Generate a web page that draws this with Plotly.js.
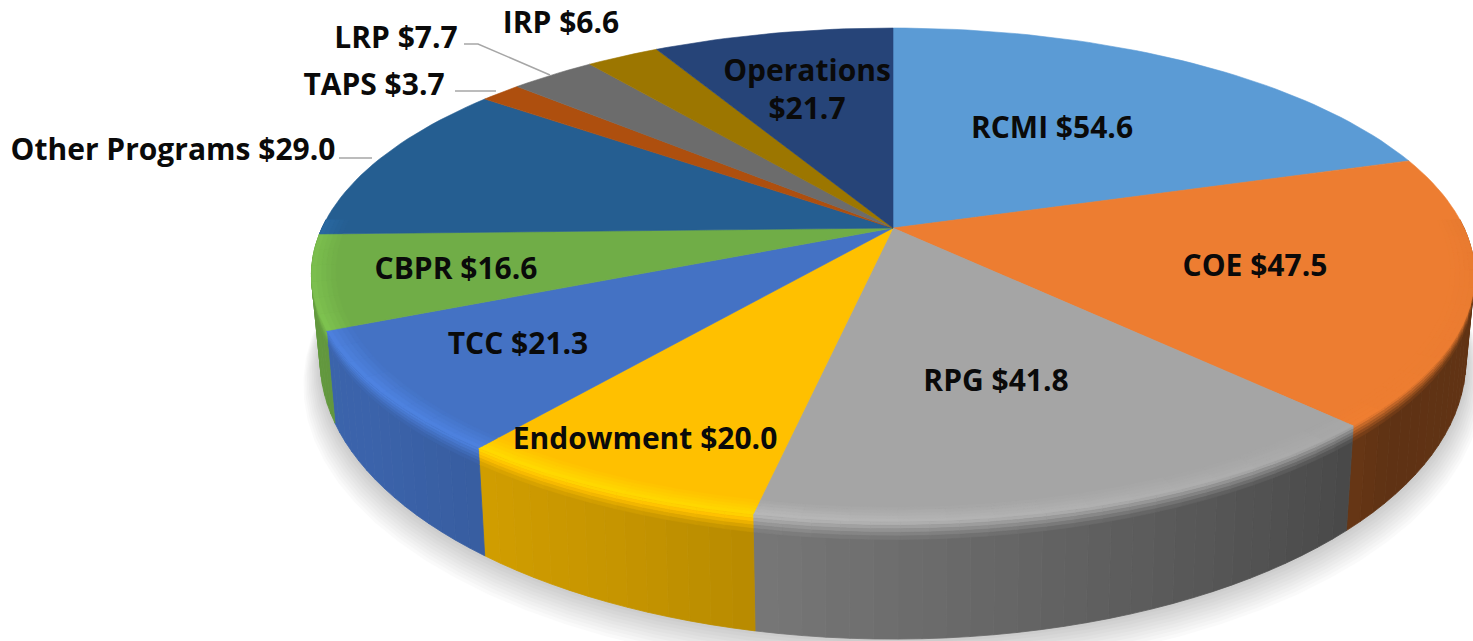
<!DOCTYPE html>
<html>
<head>
<meta charset="utf-8">
<script src="https://cdn.plot.ly/plotly-3.0.1.min.js"></script>
<style>html,body{margin:0;padding:0;background:#fff}#chart{width:1473px;height:641px}</style>
</head>
<body>
<div id="chart"></div>
<script>
// --- data ---
const categories = ["RCMI","COE","RPG","Endowment","TCC","CBPR","Other Programs","TAPS","LRP","IRP","Operations"];
const values = [54.6,47.5,41.8,20.0,21.3,16.6,29.0,3.7,7.7,6.6,21.7];
const colors = ["#5B9BD5","#ED7D31","#A5A5A5","#FFC000","#4472C4","#70AD47","#255E91","#AE4F0E","#6C6C6C","#9C7600","#264478"];

// --- label placement (pixel-scaled axes) ---
const labelX = [1052,1255,996,645,518,456,173,374,396,561,807];
const labelY = [130,268,383,441,346,271,152,87,40,25,73];
const leaders = [
  {x:[339,372],y:[158,158]},
  {x:[455,496],y:[91,91]},
  {x:[464,478,550],y:[44,44,75]}
];

// --- projection of the tilted disc ---
const CX=893, CY=228, RX=571, RY=238, PERSP=0.19;
const LOW = {rx:0.985, cy:307, ry:269};
function topPt(th,r){
  const s=Math.sin(th)*r,c=Math.cos(th)*r,w=1+PERSP*c;
  return [CX+RX*s/w, CY-RY*c/w];
}
function bottomPt(th,r){
  const s=Math.sin(th)*r,c=Math.cos(th)*r,w=1+PERSP*c;
  return [CX+RX*LOW.rx*s/w, LOW.cy-LOW.ry*c/w];
}
function sidePt(th,d){
  const a=topPt(th,1),b=bottomPt(th,1);
  return [a[0]+(b[0]-a[0])*d,a[1]+(b[1]-a[1])*d];
}
const rad=d=>d*Math.PI/180;
function lerpTable(t,x){
  if(x<=t[0][0])return t[0][1];
  for(let i=1;i<t.length;i++){
    if(x<=t[i][0]){const k=(x-t[i-1][0])/(t[i][0]-t[i-1][0]);return t[i-1][1]+(t[i][1]-t[i-1][1])*k;}
  }
  return t[t.length-1][1];
}
const sideShade=[[90,0.42],[130,0.40],[140,0.46],[191,0.72],[205,0.78],[235,0.87],[262,0.88]];
const rimLight=[[90,0.98],[130,1.0],[150,1.05],[191,1.12],[235,1.15],[262,1.1]];
function hex(c){return [1,3,5].map(i=>parseInt(c.substr(i,2),16));}
function shade(rgb,f){return "rgb("+rgb.map(v=>Math.max(0,Math.min(255,Math.round(v*f)))).join(",")+")";}
function poly(pts,col,opacity,lw){
  return {type:"scatter",mode:"lines",x:pts.map(p=>p[0]),y:pts.map(p=>p[1]),fill:"toself",fillcolor:col,
    line:{color:lw?col:"rgba(0,0,0,0)",width:lw||0},opacity:opacity==null?1:opacity,hoverinfo:"skip",showlegend:false};
}

const total=values.reduce((a,b)=>a+b,0);
let cum=0;
const spans=values.map(v=>{const s=[cum/total*360,(cum+v)/total*360];cum+=v;return s;});
const traces=[];

// soft ground shadow
for(let i=10;i>=1;i--){
  const pts=[];
  for(let d=0;d<=360;d+=4){const p=bottomPt(rad(d),1+i*0.0028);pts.push([p[0],p[1]+i*2.2]);}
  traces.push(poly(pts,"#000000",0.016));
}

// rim side, split into thin segments
const VIS=[88,272];
function segs(s,step){
  const a=Math.max(s[0],VIS[0]),b=Math.min(s[1],VIS[1]),out=[];
  if(b<=a)return out;
  const n=Math.ceil((b-a)/step);
  for(let i=0;i<n;i++)out.push([a+(b-a)*i/n,a+(b-a)*(i+1)/n]);
  return out;
}
// body of the wall, then soft blend bands near the top edge
spans.forEach((s,i)=>{
  const rgb=hex(colors[i]);
  segs(s,2).forEach(g=>{
    const c=shade(rgb,lerpTable(sideShade,(g[0]+g[1])/2));
    traces.push(poly([sidePt(rad(g[0]),0),sidePt(rad(g[1]),0),sidePt(rad(g[1]),1),sidePt(rad(g[0]),1),sidePt(rad(g[0]),0)],c,1,0.8));
  });
});
const bands=[[0,0.03,0.9],[0.03,0.06,0.7],[0.06,0.09,0.5],[0.09,0.12,0.3],[0.12,0.15,0.12]];
spans.forEach((s,i)=>{
  const rgb=hex(colors[i]);
  segs(s,2.5).forEach(g=>{
    const m=(g[0]+g[1])/2,fs=lerpTable(sideShade,m),fl=lerpTable(rimLight,m);
    bands.forEach(b=>{
      traces.push(poly([sidePt(rad(g[0]),b[0]),sidePt(rad(g[1]),b[0]),sidePt(rad(g[1]),b[1]),sidePt(rad(g[0]),b[1]),sidePt(rad(g[0]),b[0])],shade(rgb,fs+(fl-fs)*b[2]),1,0.6));
    });
  });
});

// flat top slices
spans.forEach((s,i)=>{
  const pts=[[CX,CY]],n=Math.max(6,Math.ceil((s[1]-s[0])/1.5));
  for(let k=0;k<=n;k++)pts.push(topPt(rad(s[0]+(s[1]-s[0])*k/n),1));
  pts.push([CX,CY]);
  traces.push(poly(pts,colors[i],1,0.6));
});

// bevel along the front of the top face
const rings=[[0.96,0.968,0.15],[0.968,0.976,0.35],[0.976,0.984,0.55],[0.984,0.992,0.75],[0.992,1.0,0.95]];
spans.forEach((s,i)=>{
  const rgb=hex(colors[i]);
  segs(s,4).forEach(g=>{
    const fl=lerpTable(rimLight,(g[0]+g[1])/2);
    rings.forEach(r=>{
      traces.push(poly([topPt(rad(g[0]),r[0]),topPt(rad(g[1]),r[0]),topPt(rad(g[1]),r[1]),topPt(rad(g[0]),r[1]),topPt(rad(g[0]),r[0])],shade(rgb,1+(fl-1)*r[2]),1,0.6));
    });
  });
});

// leader lines
leaders.forEach(l=>traces.push({type:"scatter",mode:"lines",x:l.x,y:l.y,line:{color:"#A6A6A6",width:1.5},hoverinfo:"skip",showlegend:false}));

// labels
const lx=[],ly=[],lt=[];
categories.forEach((c,i)=>{
  const amount="$"+values[i].toFixed(1);
  if(c==="Operations"){
    lx.push(labelX[i],labelX[i]);ly.push(labelY[i],labelY[i]+38);lt.push(c,amount);
  }else{
    lx.push(labelX[i]);ly.push(labelY[i]);lt.push(c+" "+amount);
  }
});
traces.push({type:"scatter",mode:"text",x:lx,y:ly,text:lt,textposition:"middle center",
  textfont:{family:"'Open Sans', sans-serif",size:30,color:"#0A0A0A",weight:700},hoverinfo:"skip",showlegend:false,cliponaxis:false});

const axis={visible:false,fixedrange:true,showgrid:false,zeroline:false};
Plotly.newPlot("chart",traces,{
  width:1473,height:641,margin:{l:0,r:0,t:0,b:0},paper_bgcolor:"#FFFFFF",plot_bgcolor:"#FFFFFF",showlegend:false,
  xaxis:Object.assign({range:[0,1473]},axis),
  yaxis:Object.assign({range:[641,0]},axis)
},{displayModeBar:false,staticPlot:true});
</script>
</body>
</html>
